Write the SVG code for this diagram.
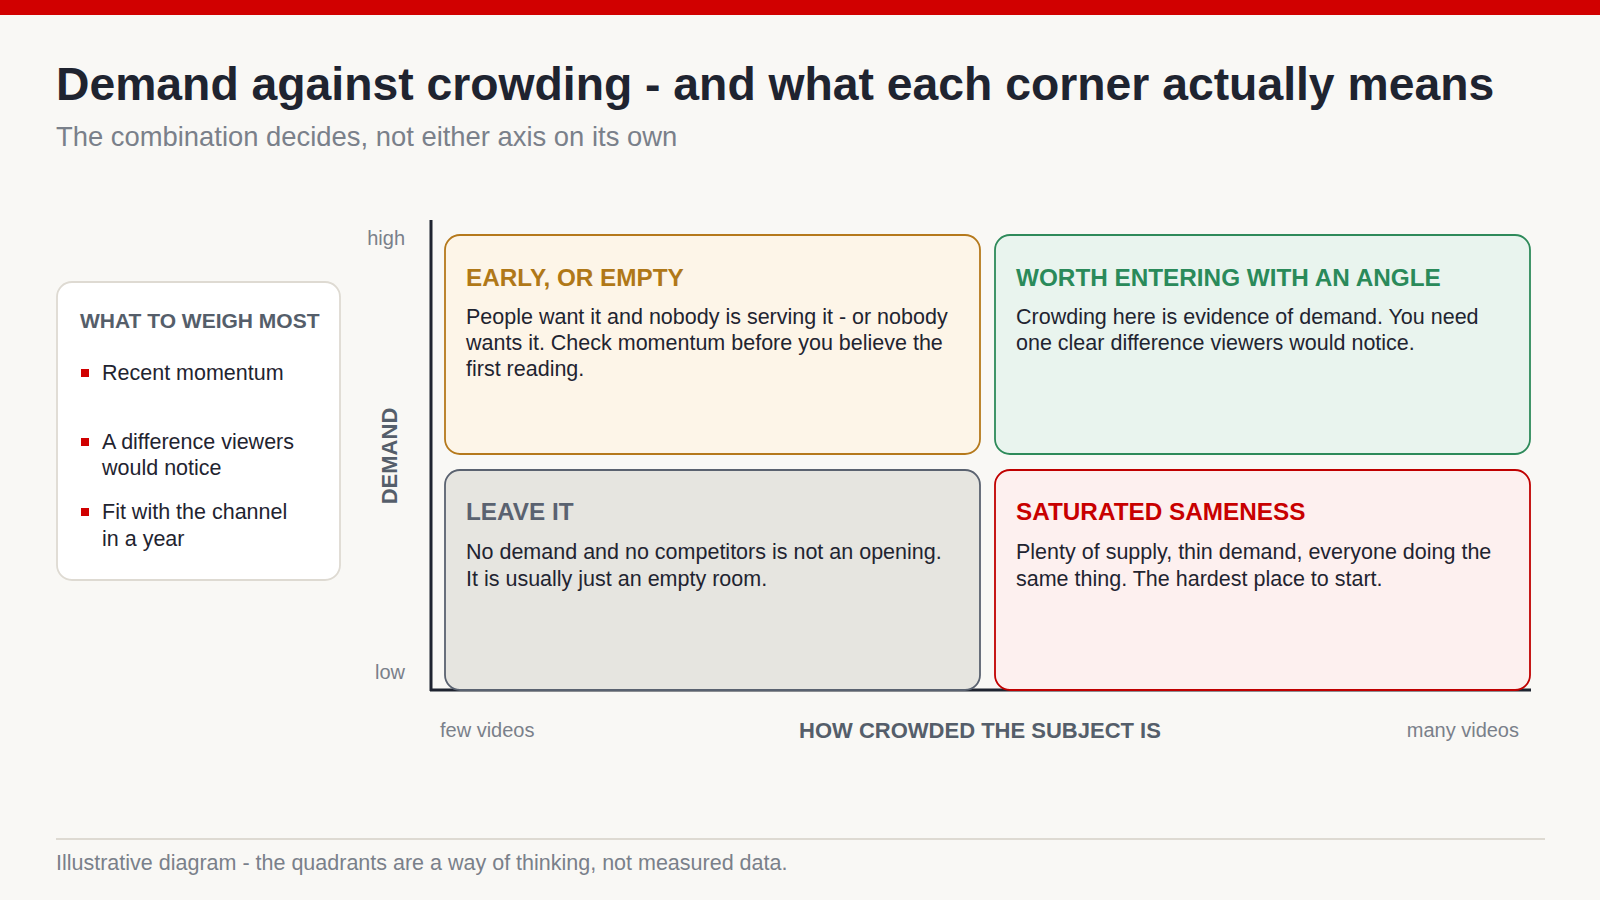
<svg xmlns="http://www.w3.org/2000/svg" width="1600" height="900" viewBox="0 0 1600 900">
  <style>
    text { font-family: "Liberation Sans", Arial, sans-serif; }
    .title { font-size: 46.3px; font-weight: bold; fill: #1f2430; }
    .sub { font-size: 27.4px; fill: #7a808a; }
    .qt { font-size: 24.3px; font-weight: bold; }
    .body { font-size: 21.5px; fill: #1f2430; }
    .axlab { font-size: 20px; fill: #7a808a; }
    .axname { font-size: 22px; font-weight: bold; fill: #555e6a; }
    .foot { font-size: 21.5px; fill: #7a808a; }
    .panel-h { font-size: 21px; font-weight: bold; fill: #555e6a; }
    .bullet { fill: #d00000; }
    .q { stroke-width: 1.8; }
  </style>
  <rect x="0" y="0" width="1600" height="900" fill="#f9f8f5"/>
  <rect x="0" y="0" width="1600" height="15" fill="#d10000"/>

  <text class="title" x="56" y="100">Demand against crowding - and what each corner actually means</text>
  <text class="sub" x="56" y="146">The combination decides, not either axis on its own</text>

  <g id="panel-weigh">
    <rect x="57" y="282" width="283" height="298" rx="15" fill="#ffffff" stroke="#dedad2" stroke-width="1.8"/>
    <text class="panel-h" x="80" y="328">WHAT TO WEIGH MOST</text>
    <rect class="bullet" x="81" y="369" width="8" height="8"/>
    <text class="body" x="102" y="380">Recent momentum</text>
    <rect class="bullet" x="81" y="438" width="8" height="8"/>
    <text class="body" x="102" y="449">A difference viewers</text>
    <text class="body" x="102" y="475">would notice</text>
    <rect class="bullet" x="81" y="508" width="8" height="8"/>
    <text class="body" x="102" y="519">Fit with the channel</text>
    <text class="body" x="102" y="546">in a year</text>
  </g>

  <g id="axes">
    <line x1="431" y1="220" x2="431" y2="691" stroke="#1f2430" stroke-width="3"/>
    <line x1="430" y1="690" x2="1531" y2="690" stroke="#1f2430" stroke-width="3"/>
    <text class="axlab" x="405" y="245" text-anchor="end">high</text>
    <text class="axlab" x="405" y="679" text-anchor="end">low</text>
    <text class="axname" transform="translate(397,456) rotate(-90)" text-anchor="middle">DEMAND</text>
    <text class="axlab" x="440" y="737">few videos</text>
    <text class="axname" x="980" y="738" text-anchor="middle">HOW CROWDED THE SUBJECT IS</text>
    <text class="axlab" x="1519" y="737" text-anchor="end">many videos</text>
  </g>

  <g id="q-early">
    <rect class="q" x="445" y="235" width="535" height="219" rx="15" fill="#fdf5e8" stroke="#b5791c"/>
    <text class="qt" x="466" y="286" fill="#b07818">EARLY, OR EMPTY</text>
    <text class="body" x="466" y="324">People want it and nobody is serving it - or nobody</text>
    <text class="body" x="466" y="350">wants it. Check momentum before you believe the</text>
    <text class="body" x="466" y="376">first reading.</text>
  </g>

  <g id="q-worth">
    <rect class="q" x="995" y="235" width="535" height="219" rx="15" fill="#e9f4ee" stroke="#2e8a5a"/>
    <text class="qt" x="1016" y="286" fill="#2a8a5a">WORTH ENTERING WITH AN ANGLE</text>
    <text class="body" x="1016" y="324">Crowding here is evidence of demand. You need</text>
    <text class="body" x="1016" y="350">one clear difference viewers would notice.</text>
  </g>

  <g id="q-leave">
    <rect class="q" x="445" y="470" width="535" height="220" rx="15" fill="#e6e5e0" stroke="#5a6270"/>
    <text class="qt" x="466" y="520" fill="#5a6270">LEAVE IT</text>
    <text class="body" x="466" y="559">No demand and no competitors is not an opening.</text>
    <text class="body" x="466" y="586">It is usually just an empty room.</text>
  </g>

  <g id="q-saturated">
    <rect class="q" x="995" y="470" width="535" height="220" rx="15" fill="#fdf0ef" stroke="#c00000"/>
    <text class="qt" x="1016" y="520" fill="#c80000">SATURATED SAMENESS</text>
    <text class="body" x="1016" y="559">Plenty of supply, thin demand, everyone doing the</text>
    <text class="body" x="1016" y="586">same thing. The hardest place to start.</text>
  </g>

  <line x1="56" y1="839" x2="1545" y2="839" stroke="#dedad2" stroke-width="2"/>
  <text class="foot" x="56" y="870">Illustrative diagram - the quadrants are a way of thinking, not measured data.</text>
</svg>
